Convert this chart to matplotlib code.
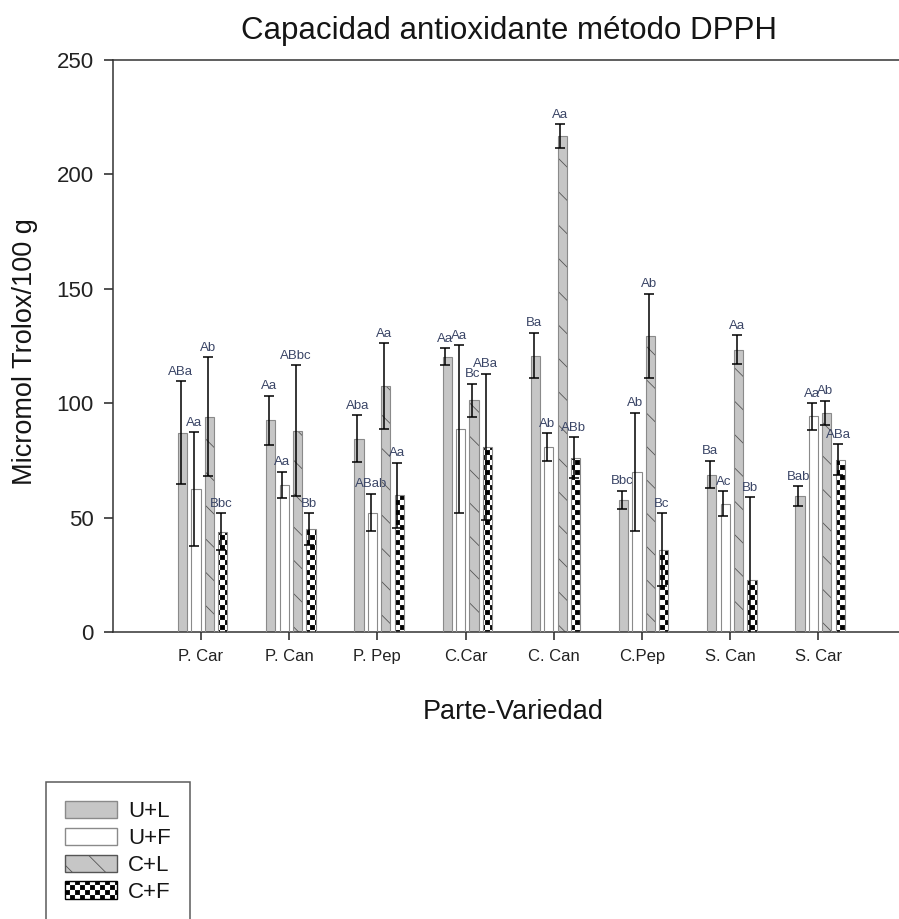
import numpy as np
import matplotlib
matplotlib.use("Agg")
import matplotlib.pyplot as plt
import matplotlib.patches as mpatches
from matplotlib import hatch as mhatch
from matplotlib.path import Path

# data
categories = ["P. Car", "P. Can", "P. Pep", "C.Car", "C. Can", "C.Pep", "S. Can", "S. Car"]
series_names = ["U+L", "U+F", "C+L", "C+F"]

ul = [87.0, 92.5, 84.5, 120.3, 120.8, 57.8, 68.8, 59.3]
uf = [62.4, 64.2, 52.2, 88.7, 80.8, 70.0, 56.1, 94.3]
cl = [94.0, 88.0, 107.5, 101.2, 216.7, 129.3, 123.4, 95.7]
cf = [43.8, 44.9, 59.7, 80.8, 76.2, 36.0, 22.9, 75.3]

ul_err = [22.5, 10.7, 10.2, 3.7, 10.0, 4.0, 6.0, 4.4]
uf_err = [25.0, 5.8, 8.2, 36.7, 6.0, 25.8, 5.5, 5.8]
cl_err = [26.0, 28.7, 18.7, 7.3, 5.3, 18.5, 6.4, 5.3]
cf_err = [8.0, 7.0, 14.3, 32.0, 9.0, 16.0, 36.0, 6.7]

ul_lab = ["ABa", "Aa", "Aba", "Aa", "Ba", "Bbc", "Ba", "Bab"]
uf_lab = ["Aa", "Aa", "ABab", "Aa", "Ab", "Ab", "Ac", "Aa"]
cl_lab = ["Ab", "ABbc", "Aa", "Bc", "Aa", "Ab", "Aa", "Ab"]
cf_lab = ["Bbc", "Bb", "Aa", "ABa", "ABb", "Bc", "Bb", "ABa"]

y_ticks = [0, 50, 100, 150, 200, 250]


# checkerboard fill for the C+F bars (takes the place of the '.' hatch)
class CheckerHatch(mhatch.HatchPatternBase):
    def __init__(self, hatch, density):
        self.n = 20 if "." in hatch else 0
        self.num_vertices = (self.n * self.n // 2) * 5

    def set_vertices_and_codes(self, vertices, codes):
        s = 1.0 / self.n
        d = s * 0.1
        sq = np.array([[d, d], [s - d, d], [s - d, s - d], [d, s - d], [d, d]])
        cells = [(i, j) for i in range(self.n) for j in range(self.n) if (i + j) % 2 == 0]
        vertices[:] = np.concatenate([sq + [i * s, j * s] for i, j in cells])
        codes[:] = np.tile([Path.MOVETO, Path.LINETO, Path.LINETO, Path.LINETO, Path.CLOSEPOLY], len(cells))


mhatch._hatch_types[mhatch._hatch_types.index(mhatch.SmallFilledCircles)] = CheckerHatch

plt.rcParams["font.family"] = ["Liberation Sans", "DejaVu Sans"]
plt.rcParams["hatch.linewidth"] = 0.6

GRAY = "#c6c6c6"
EDGE = "#8a8a8a"
TXT = "#151515"

fig = plt.figure(figsize=(8.99, 9.19), dpi=100)
ax = fig.add_axes([0.1254, 0.3123, 0.8879, 0.6224])

x = np.arange(len(categories))
step = 0.152
width = 0.105
styles = [
    dict(fc=GRAY, hc=EDGE, hatch=None),
    dict(fc="white", hc=EDGE, hatch=None),
    dict(fc=GRAY, hc="#555555", hatch="\\"),
    dict(fc="white", hc="black", hatch="."),
]
values = [ul, uf, cl, cf]
errors = [ul_err, uf_err, cl_err, cf_err]
labels = [ul_lab, uf_lab, cl_lab, cf_lab]

for k, (vals, errs, labs, st) in enumerate(zip(values, errors, labels, styles)):
    xs = x + (k - 1.5) * step + 0.02
    # fill + hatch, then a thin gray outline on top
    ax.bar(xs, vals, width, color=st["fc"], hatch=st["hatch"], edgecolor=st["hc"], linewidth=0, zorder=2)
    ax.bar(xs, vals, width, fill=False, edgecolor=EDGE, linewidth=0.8, zorder=3)
    ax.errorbar(xs - 0.02, vals, yerr=errs, fmt="none", ecolor="black", elinewidth=1.1,
                capsize=3.6, capthick=1.1, zorder=4)
    for xi, v, e, t in zip(xs - 0.02, vals, errs, labs):
        ax.annotate(t, (xi, v + e), xytext=(0, 2.5), textcoords="offset points",
                    ha="center", va="bottom", fontsize=9.5, color="#3a4566")

ax.set_xlim(-1.0, 8.05)
ax.set_ylim(0, 250)
ax.set_yticks(y_ticks)
ax.set_xticks(x)
ax.set_xticklabels(categories)
ax.tick_params(axis="y", direction="out", length=6.5, width=1.1, pad=7, labelsize=16, colors="#222222")
ax.tick_params(axis="x", direction="out", length=5.8, width=1.1, pad=6.5, labelsize=12, colors="#222222")
for name in ["left", "top", "bottom"]:
    ax.spines[name].set_linewidth(1.1)
    ax.spines[name].set_color("#333333")
ax.spines["right"].set_visible(False)

fig.text(509 / 899, 1 - 31 / 919, "Capacidad antioxidante método DPPH", ha="center", va="center",
         fontsize=22.5, color=TXT)
fig.text(513 / 899, 1 - 712 / 919, "Parte-Variedad", ha="center", va="center", fontsize=19.5, color=TXT)
fig.text(25 / 899, 1 - 352 / 919, "Micromol Trolox/100 g", ha="center", va="center", rotation=90,
         fontsize=19.5, color=TXT)

handles = [
    mpatches.Patch(facecolor=GRAY, edgecolor=EDGE),
    mpatches.Patch(facecolor="white", edgecolor=EDGE),
    mpatches.Patch(facecolor=GRAY, edgecolor="#555555", hatch="\\"),
    mpatches.Patch(facecolor="white", edgecolor="black", hatch="."),
]
leg = fig.legend(handles, series_names, loc="upper left", bbox_to_anchor=(46 / 899, 1 - 781.7 / 919),
                 borderaxespad=0, fontsize=16, frameon=True, fancybox=False, borderpad=0.85,
                 handlelength=2.34, handleheight=0.86, handletextpad=0.5, labelspacing=0.24)
leg.get_frame().set_edgecolor("#333333")
leg.get_frame().set_linewidth(1.1)
for t in leg.get_texts():
    t.set_color(TXT)

fig.savefig("out.png", dpi=100)
